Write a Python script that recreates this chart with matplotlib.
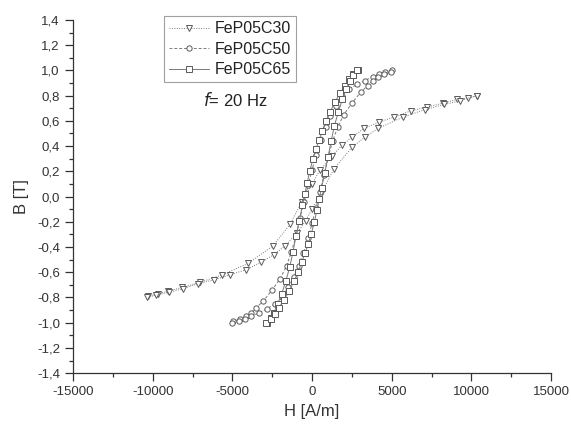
import matplotlib
matplotlib.use("Agg")
import matplotlib.pyplot as plt
from matplotlib.ticker import MultipleLocator, FuncFormatter

plt.rcParams['font.family'] = ['Liberation Sans', 'DejaVu Sans']

# FeP05C30 (triangles) - descending and ascending branches
c30_desc_H = [10350, 9780, 9090, 8210, 7210, 6210, 5140, 4200, 3260, 2510, 1900, 1250, 500, 0,
              -630, -1380, -2450, -4010, -5640, -7020, -8150, -9030, -9650, -10300]
c30_desc_B = [0.80, 0.78, 0.77, 0.74, 0.71, 0.68, 0.63, 0.59, 0.54, 0.47, 0.41, 0.32, 0.21, 0.10,
              -0.04, -0.22, -0.39, -0.53, -0.62, -0.68, -0.72, -0.75, -0.77, -0.79]
c30_asc_H = [-10350, -9780, -9000, -8100, -7150, -6140, -5140, -4140, -3200, -2380, -1700, -940,
             -400, 0, 630, 1380, 2500, 3300, 4140, 5700, 7090, 8300, 9300, 10350]
c30_asc_B = [-0.80, -0.78, -0.76, -0.73, -0.69, -0.66, -0.62, -0.58, -0.52, -0.46, -0.39, -0.29,
             -0.19, -0.10, 0.04, 0.22, 0.39, 0.47, 0.54, 0.63, 0.69, 0.73, 0.76, 0.80]

# FeP05C50 (circles)
c50_desc_H = [5000, 4580, 4200, 3820, 3320, 2820, 2320, 1900, 1500, 1150, 850, 550, 250, 0,
              -250, -500, -750, -1000, -1300, -1600, -2000, -2500, -3070, -3500, -3820, -4140, -4510, -4950]
c50_desc_B = [1.00, 0.99, 0.97, 0.95, 0.92, 0.89, 0.85, 0.80, 0.72, 0.64, 0.55, 0.45, 0.33, 0.21,
              0.09, -0.04, -0.17, -0.31, -0.44, -0.55, -0.65, -0.74, -0.83, -0.88, -0.92, -0.95, -0.97, -0.99]
c50_asc_H = [-5000, -4580, -4200, -3820, -3320, -2820, -2320, -1900, -1500, -1150, -850, -550, -250, 0,
             250, 500, 750, 1000, 1300, 1600, 2000, 2500, 3070, 3500, 3820, 4140, 4510, 4950]
c50_asc_B = [-1.00, -0.99, -0.97, -0.95, -0.92, -0.89, -0.85, -0.80, -0.72, -0.64, -0.55, -0.45,
             -0.33, -0.21, -0.09, 0.04, 0.17, 0.31, 0.44, 0.55, 0.65, 0.74, 0.83, 0.88, 0.92, 0.95, 0.97, 0.99]

# FeP05C65 (squares)
c65_desc_H = [2880, 2600, 2350, 2070, 1760, 1440, 1130, 880, 650, 440, 250, 60, -150, -300, -450,
              -600, -800, -1000, -1200, -1400, -1650, -1900, -2150, -2400, -2600, -2850]
c65_desc_B = [1.00, 0.97, 0.93, 0.88, 0.82, 0.75, 0.67, 0.60, 0.52, 0.45, 0.38, 0.30, 0.20, 0.11,
              0.02, -0.07, -0.19, -0.31, -0.44, -0.56, -0.67, -0.77, -0.85, -0.92, -0.96, -1.00]
c65_asc_H = [-2880, -2600, -2350, -2070, -1760, -1440, -1130, -880, -650, -440, -250, -60, 150, 300,
             450, 600, 800, 1000, 1200, 1400, 1650, 1900, 2150, 2400, 2600, 2850]
c65_asc_B = [-1.00, -0.97, -0.93, -0.88, -0.82, -0.75, -0.67, -0.60, -0.52, -0.45, -0.38, -0.30,
             -0.20, -0.11, -0.02, 0.07, 0.19, 0.31, 0.44, 0.56, 0.67, 0.77, 0.85, 0.92, 0.96, 1.00]

labels = ['FeP05C30', 'FeP05C50', 'FeP05C65']

fig = plt.figure(figsize=(5.71, 4.25), dpi=100)
ax = fig.add_axes([0.128, 0.122, 0.837, 0.831])

lc = '#7a7a7a'
mc = '#5a5a5a'
styles = [
    dict(ls=(0, (1, 1.5)), marker='v', label=labels[0]),
    dict(ls=(0, (3, 2)), marker='o', label=labels[1]),
    dict(ls='-', marker='s', label=labels[2]),
]
series = [
    (c30_desc_H, c30_desc_B, c30_asc_H, c30_asc_B),
    (c50_desc_H, c50_desc_B, c50_asc_H, c50_asc_B),
    (c65_desc_H, c65_desc_B, c65_asc_H, c65_asc_B),
]
for st, (dh, db, ah, ab) in zip(styles, series):
    kw = dict(color=lc, lw=0.7, markersize=3.8, markerfacecolor='white',
              markeredgecolor=mc, markeredgewidth=0.7, ls=st['ls'], marker=st['marker'])
    ax.plot(dh, db, label=st['label'], **kw)
    ax.plot(ah, ab, **kw)

ax.set_xlim(-15000, 15000)
ax.set_ylim(-1.4, 1.4)
ax.xaxis.set_major_locator(MultipleLocator(5000))
ax.xaxis.set_minor_locator(MultipleLocator(2500))
ax.yaxis.set_major_locator(MultipleLocator(0.2))
ax.yaxis.set_minor_locator(MultipleLocator(0.1))
ax.yaxis.set_major_formatter(FuncFormatter(lambda v, p: ('%.1f' % v).replace('.', ',').replace('-0,0', '0,0')))
ax.xaxis.set_major_formatter(FuncFormatter(lambda v, p: '%d' % v))

for s in ['top', 'right']:
    ax.spines[s].set_visible(False)
for s in ['left', 'bottom']:
    ax.spines[s].set_color('#333333')
    ax.spines[s].set_linewidth(0.9)
ax.tick_params(which='major', direction='out', length=6, width=0.9, color='#333333',
               labelsize=9.5, labelcolor='#333333')
ax.tick_params(which='minor', direction='out', length=3, width=0.9, color='#333333')

ax.set_xlabel('H [A/m]', fontsize=12, color='#333333', labelpad=4)
ax.set_ylabel('B [T]', fontsize=12, color='#333333', labelpad=6)

handles, labs = ax.get_legend_handles_labels()
leg = ax.legend(handles, labs, loc='upper left', bbox_to_anchor=(0.19, 1.01),
                fontsize=11.5, frameon=True, fancybox=False, handlelength=2.5,
                handletextpad=0.4, borderpad=0.3, labelspacing=0.35, borderaxespad=0.0)
leg.get_frame().set_edgecolor('#888888')
leg.get_frame().set_linewidth(0.8)
for t in leg.get_texts():
    t.set_color('#222222')

ax.text(0.272, 0.773, r'$\mathit{f}$' + '= 20 Hz', transform=ax.transAxes, fontsize=12,
        color='#222222', ha='left', va='center')

fig.savefig('out.png', dpi=100)
